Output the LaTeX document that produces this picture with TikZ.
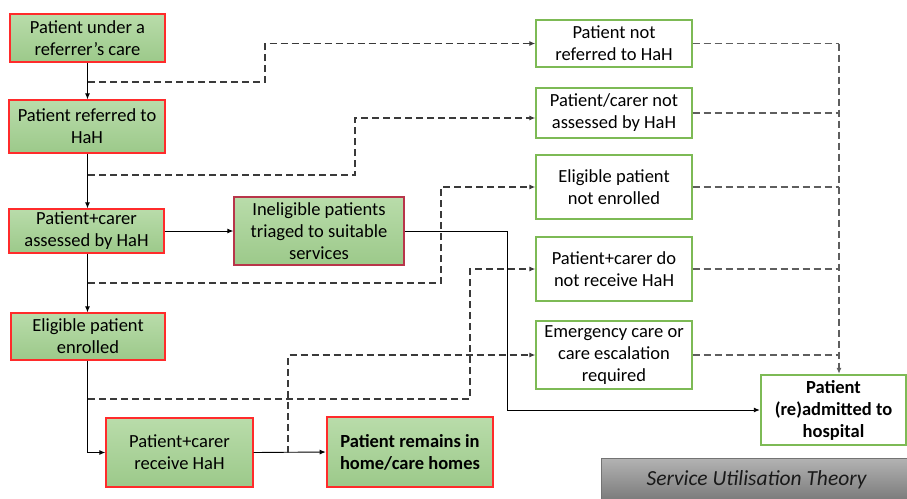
\documentclass[tikz,border=0pt]{standalone}
\usepackage{fontspec}
\setmainfont{Carlito}
\usetikzlibrary{arrows.meta}
\definecolor{gtop}{HTML}{B9DCAA}
\definecolor{gbot}{HTML}{9CC98A}
\definecolor{redb}{HTML}{FF2B2B}
\definecolor{darkred}{HTML}{B8354A}
\definecolor{greenb}{HTML}{7DBA55}
\definecolor{dashdark}{HTML}{3A3A3A}
\definecolor{dashgrey}{HTML}{5E5E5E}
\tikzset{
  base/.style={draw, inner sep=1pt, align=center, font=\fontsize{18.5}{22}\selectfont},
  gbox/.style={base, top color=gtop, bottom color=gbot, draw=redb, line width=1.4pt},
  wbox/.style={base, fill=white, draw=greenb, line width=1.4pt},
  arr/.style={-{Latex[length=6pt,width=5pt]}, line width=0.9pt, black},
  dshL/.style={dash pattern=on 7pt off 4pt, line width=1.1pt, dashdark},
  dshR/.style={dash pattern=on 7pt off 4pt, line width=1.1pt, dashgrey},
  darr/.style={-{Latex[length=6pt,width=5pt]}},
}
\begin{document}
\begin{tikzpicture}[x=1pt,y=-1pt]
\useasboundingbox (0,0) rectangle (907,498);
% left column
\node[gbox, minimum width=155pt, minimum height=48pt] (b1) at (87.5,38) {Patient under a\\referrer’s care};
\node[gbox, minimum width=156pt, minimum height=53pt] (b2) at (87,126.5) {Patient referred to\\HaH};
\node[gbox, minimum width=155pt, minimum height=44pt] (b3) at (86.5,231) {Patient+carer\\assessed by HaH};
\node[gbox, draw=darkred, minimum width=170pt, minimum height=68pt] (b4) at (319,231) {Ineligible patients\\triaged to suitable\\services};
\node[gbox, minimum width=154pt, minimum height=47pt] (b5) at (88,336.5) {Eligible patient\\enrolled};
\node[gbox, minimum width=147pt, minimum height=69pt] (b6) at (179.5,452.5) {Patient+carer\\receive HaH};
\node[gbox, line width=2.6pt, minimum width=166pt, minimum height=70pt, font=\fontsize{18.5}{22}\selectfont\bfseries] (b7) at (410,452) {Patient remains in\\home/care homes};
% right column
\node[wbox, minimum width=156pt, minimum height=47pt] (r1) at (614,43.5) {Patient not\\referred to HaH};
\node[wbox, minimum width=156pt, minimum height=50pt] (r2) at (614,113) {Patient/carer not\\assessed by HaH};
\node[wbox, minimum width=156pt, minimum height=64pt] (r3) at (614,187) {Eligible patient\\not enrolled};
\node[wbox, minimum width=156pt, minimum height=64pt] (r4) at (614,269) {Patient+carer do\\not receive HaH};
\node[wbox, minimum width=156pt, minimum height=68pt] (r5) at (614,355) {Emergency care or\\care escalation\\required};
\node[wbox, line width=2.4pt, minimum width=145pt, minimum height=70pt, font=\fontsize{18.5}{22}\selectfont\bfseries] (h) at (833.5,410) {Patient\\(re)admitted to\\hospital};
% title box
\node[draw=black!55, line width=1pt, top color=black!30, bottom color=black!52, minimum width=310pt, minimum height=42pt, inner sep=0pt, anchor=north west, font=\fontsize{21.5}{24}\selectfont\itshape, text=black!90] (t) at (601,458) {Service Utilisation Theory};
% solid connectors
\draw[arr] (b1.south) -- (b1.south |- b2.north);
\draw[arr] (b1.south |- b2.south) -- (b1.south |- b3.north);
\draw[arr] (b3.east) -- (b4.west);
\draw[arr] (b1.south |- b3.south) -- (b1.south |- b5.north);
\draw[arr] (b1.south |- b5.south) |- (b6.west);
\draw[arr] (b6.east) -- (b7.west);
\draw[arr] (b4.east) -- (507,231) |- (h.west);
% dashed from left
\coordinate (d1) at (88,82);
\coordinate (d2) at (88,175);
\coordinate (d3) at (88,283);
\coordinate (d4) at (88,399);
\coordinate (d5) at (288,452.5);
\draw[dshL,darr] (d1) -- (265,82) |- (r1.west);
\draw[dshL,darr] (d2) -- (355,175) |- ([yshift=-5pt]r2.west);
\draw[dshL,darr] (d3) -- (441,283) |- (r3.west);
\draw[dshL,darr] (d4) -- (470,399) |- (r4.west);
\draw[dshL,darr] (d5) -- (288,355) -- (r5.west);
% dashed to hospital
\coordinate (c1) at (839,43.5);
\draw[dshR] (r1.east) -- (c1);
\draw[dshR] (r2.east) -- (r2.east -| c1);
\draw[dshR] (r3.east) -- (r3.east -| c1);
\draw[dshR] (r4.east) -- (r4.east -| c1);
\draw[dshR] (r5.east) -- (r5.east -| c1);
\draw[dshR,darr] (c1) -- (c1 |- h.north);
\end{tikzpicture}
\end{document}
